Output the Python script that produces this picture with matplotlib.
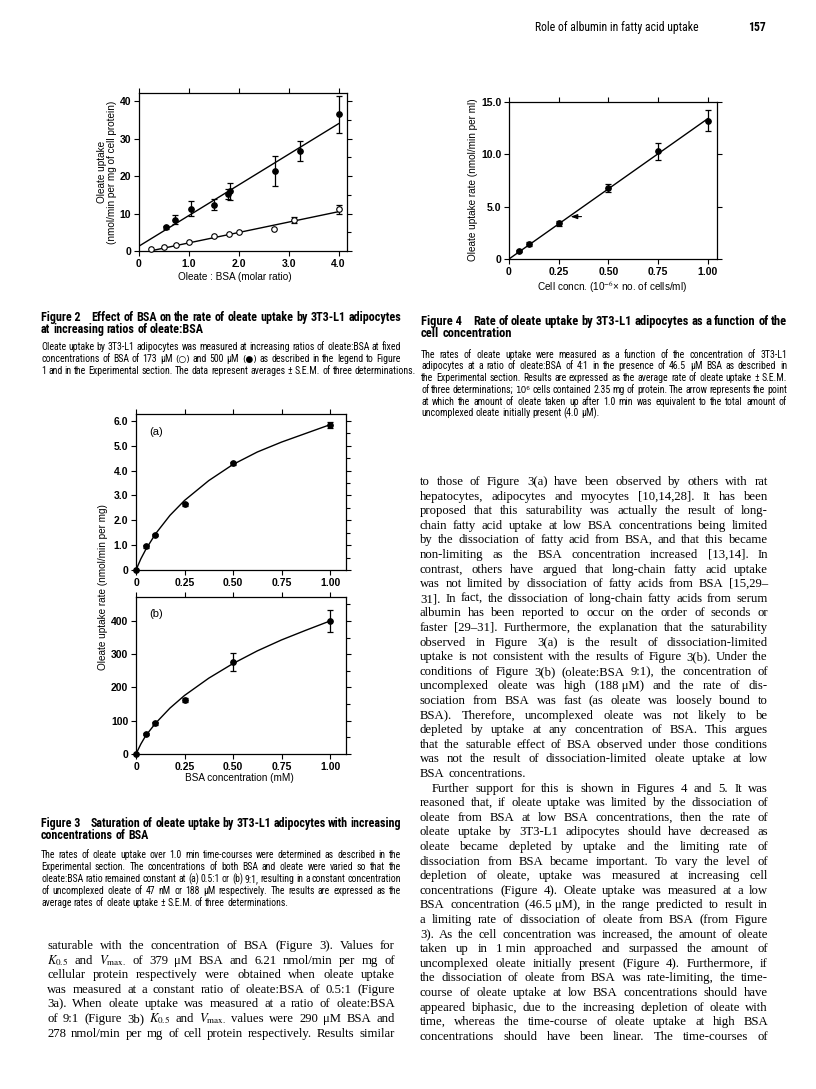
import matplotlib
matplotlib.use("Agg")
import matplotlib.pyplot as plt
from matplotlib import font_manager
from matplotlib.font_manager import FontProperties
from matplotlib.ticker import MultipleLocator

# ---------------- Figure 2: uptake vs oleate:BSA ratio ----------------
ratio_open = [0.25, 0.5, 0.75, 1.0, 1.5, 1.8, 2.0, 2.7, 3.1, 4.0]
uptake_open = [0.5, 1.0, 1.7, 2.3, 4.0, 4.5, 5.0, 5.9, 8.3, 11.2]
sem_open = [0, 0, 0, 0, 0, 0, 0, 0, 0.8, 1.2]
ratio_filled = [0.55, 0.73, 1.05, 1.5, 1.78, 1.82, 2.72, 3.22, 4.0]
uptake_filled = [6.4, 8.3, 11.3, 12.4, 15.3, 15.9, 21.4, 26.7, 36.5]
sem_filled = [0.4, 1.2, 2.0, 1.5, 1.3, 2.2, 4.0, 2.6, 5.0]
fit_open_x = [0.22, 4.0]
fit_open_y = [0.0, 10.5]
fit_filled_x = [0.0, 4.0]
fit_filled_y = [1.3, 34.0]
fig2_xticks = [0, 1.0, 2.0, 3.0, 4.0]
fig2_xlabels = ["0", "1.0", "2.0", "3.0", "4.0"]
fig2_yticks = [0, 10, 20, 30, 40]
fig2_ylabels = ["0", "10", "20", "30", "40"]

# ---------------- Figure 3: uptake vs BSA concentration ----------------
bsa_mM = [0, 0.05, 0.10, 0.25, 0.50, 1.00]
rate_a = [0, 0.95, 1.40, 2.65, 4.30, 5.82]
sem_a = [0, 0.05, 0.05, 0.06, 0.06, 0.12]
rate_b = [0, 60, 92, 162, 278, 400]
sem_b = [0, 4, 5, 5, 27, 34]
curve_x = [0, 0.025, 0.05, 0.10, 0.175, 0.25, 0.375, 0.50, 0.625, 0.75, 0.875, 1.00]
curve_a = [0, 0.45, 0.82, 1.45, 2.20, 2.80, 3.60, 4.25, 4.75, 5.15, 5.50, 5.85]
curve_b = [0, 30, 55, 92, 138, 176, 228, 272, 310, 343, 372, 400]
fig3_xticks = [0, 0.25, 0.50, 0.75, 1.00]
fig3_xlabels = ["0", "0.25", "0.50", "0.75", "1.00"]
fig3a_yticks = [0, 1, 2, 3, 4, 5, 6]
fig3a_ylabels = ["0", "1.0", "2.0", "3.0", "4.0", "5.0", "6.0"]
fig3b_yticks = [0, 100, 200, 300, 400]
fig3b_ylabels = ["0", "100", "200", "300", "400"]

# ---------------- Figure 4: uptake vs cell concentration ----------------
cells = [0.05, 0.10, 0.25, 0.50, 0.75, 1.00]
rate_cells = [0.75, 1.40, 3.40, 6.80, 10.30, 13.20]
sem_cells = [0.10, 0.20, 0.20, 0.40, 0.80, 1.00]
fit_cells_x = [0, 1.0]
fit_cells_y = [0, 13.4]
arrow_x = [0.365, 0.31]
arrow_y = 4.05
fig4_xticks = [0, 0.25, 0.50, 0.75, 1.00]
fig4_xlabels = ["0", "0.25", "0.50", "0.75", "1.00"]
fig4_yticks = [0, 5, 10, 15]
fig4_ylabels = ["0", "5.0", "10.0", "15.0"]

# ---------------- page text ----------------
header_text = "Role of albumin in fatty acid uptake"
page_number = "157"

cap2_title = ["Effect of BSA on the rate of oleate uptake by 3T3-L1 adipocytes",
              "at increasing ratios of oleate:BSA"]
cap2_body = [
    "Oleate uptake by 3T3-L1 adipocytes was measured at increasing ratios of oleate:BSA at fixed",
    "concentrations of BSA of 173 μM (○) and 500 μM (●) as described in the legend to Figure",
    "1 and in the Experimental section. The data represent averages ± S.E.M. of three determinations.",
]
cap4_title = ["Rate of oleate uptake by 3T3-L1 adipocytes as a function of the",
              "cell concentration"]
cap4_body = [
    "The rates of oleate uptake were measured as a function of the concentration of 3T3-L1",
    "adipocytes at a ratio of oleate:BSA of 4:1 in the presence of 46.5 μM BSA as described in",
    "the Experimental section. Results are expressed as the average rate of oleate uptake ± S.E.M.",
    "of three determinations; 10⁶ cells contained 2.35 mg of protein. The arrow represents the point",
    "at which the amount of oleate taken up after 1.0 min was equivalent to the total amount of",
    "uncomplexed oleate initially present (4.0 μM).",
]
cap3_title = ["Saturation of oleate uptake by 3T3-L1 adipocytes with increasing",
              "concentrations of BSA"]
cap3_body = [
    "The rates of oleate uptake over 1.0 min time-courses were determined as described in the",
    "Experimental section. The concentrations of both BSA and oleate were varied so that the",
    "oleate:BSA ratio remained constant at (a) 0.5:1 or (b) 9:1, resulting in a constant concentration",
    "of uncomplexed oleate of 47 nM or 188 μM respectively. The results are expressed as the",
    "average rates of oleate uptake ± S.E.M. of three determinations.",
]
left_body = [
    "saturable with the concentration of BSA (Figure 3). Values for",
    "$K_{0.5}$ and $V_{\\mathrm{max.}}$ of 379 μM BSA and 6.21 nmol/min per mg of",
    "cellular protein respectively were obtained when oleate uptake",
    "was measured at a constant ratio of oleate:BSA of 0.5:1 (Figure",
    "3a). When oleate uptake was measured at a ratio of oleate:BSA",
    "of 9:1 (Figure 3b) $K_{0.5}$ and $V_{\\mathrm{max.}}$ values were 290 μM BSA and",
    "278 nmol/min per mg of cell protein respectively. Results similar",
]
right_body = [
    "to those of Figure 3(a) have been observed by others with rat",
    "hepatocytes, adipocytes and myocytes [10,14,28]. It has been",
    "proposed that this saturability was actually the result of long-",
    "chain fatty acid uptake at low BSA concentrations being limited",
    "by the dissociation of fatty acid from BSA, and that this became",
    "non-limiting as the BSA concentration increased [13,14]. In",
    "contrast, others have argued that long-chain fatty acid uptake",
    "was not limited by dissociation of fatty acids from BSA [15,29–",
    "31]. In fact, the dissociation of long-chain fatty acids from serum",
    "albumin has been reported to occur on the order of seconds or",
    "faster [29–31]. Furthermore, the explanation that the saturability",
    "observed in Figure 3(a) is the result of dissociation-limited",
    "uptake is not consistent with the results of Figure 3(b). Under the",
    "conditions of Figure 3(b) (oleate:BSA 9:1), the concentration of",
    "uncomplexed oleate was high (188\u00a0μM) and the rate of dis-",
    "sociation from BSA was fast (as oleate was loosely bound to",
    "BSA). Therefore, uncomplexed oleate was not likely to be",
    "depleted by uptake at any concentration of BSA. This argues",
    "that the saturable effect of BSA observed under those conditions",
    "was not the result of dissociation-limited oleate uptake at low",
    "BSA concentrations.",
    "Further support for this is shown in Figures 4 and 5. It was",
    "reasoned that, if oleate uptake was limited by the dissociation of",
    "oleate from BSA at low BSA concentrations, then the rate of",
    "oleate uptake by 3T3-L1 adipocytes should have decreased as",
    "oleate became depleted by uptake and the limiting rate of",
    "dissociation from BSA became important. To vary the level of",
    "depletion of oleate, uptake was measured at increasing cell",
    "concentrations (Figure 4). Oleate uptake was measured at a low",
    "BSA concentration (46.5\u00a0μM), in the range predicted to result in",
    "a limiting rate of dissociation of oleate from BSA (from Figure",
    "3). As the cell concentration was increased, the amount of oleate",
    "taken up in 1\u00a0min approached and surpassed the amount of",
    "uncomplexed oleate initially present (Figure 4). Furthermore, if",
    "the dissociation of oleate from BSA was rate-limiting, the time-",
    "course of oleate uptake at low BSA concentrations should have",
    "appeared biphasic, due to the increasing depletion of oleate with",
    "time, whereas the time-course of oleate uptake at high BSA",
    "concentrations should have been linear. The time-courses of",
]

W, H = 816, 1089
plt.rcParams["font.family"] = ["Liberation Sans", "DejaVu Sans"]
plt.rcParams["mathtext.fontset"] = "stix"


def condensed_file(bold):
    # look for a narrow sans face on the system (Helvetica Condensed stand-in)
    prefs = ["Liberation Sans Narrow", "Roboto Condensed", "Open Sans Condensed",
             "Noto Sans Condensed", "Noto Sans", "DejaVu Sans Condensed", "DejaVu Sans"]
    for stretch_ok in (("condensed",), ("semi-condensed", "extra-condensed")):
        for name in prefs:
            for f in font_manager.fontManager.ttflist:
                if f.name != name or f.style != "normal":
                    continue
                narrow = "Narrow" in name or "Condensed" in name or f.stretch in stretch_ok
                if not narrow:
                    continue
                w = f.weight if isinstance(f.weight, int) else font_manager.weight_dict.get(f.weight, 400)
                if (w >= 600) == bold and (w in (400, 700) or "Narrow" in name):
                    return f.fname
    return None


COND_R = condensed_file(False)
COND_B = condensed_file(True)


def cond_fp(size, bold=False):
    path = COND_B if bold else COND_R
    if path:
        return FontProperties(fname=path, size=size)
    return FontProperties(family="Liberation Sans", size=size, weight="bold" if bold else "normal")


SPECIAL = set("○●⁶")

fig = plt.figure(figsize=(W / 100, H / 100), dpi=100)
rend = fig.canvas.get_renderer()


def fx(x):
    return x / W


def fy(y):
    return 1 - y / H


def word_fp(w, fp):
    if SPECIAL & set(w):
        return FontProperties(family="DejaVu Sans", size=fp.get_size() * 0.9)
    return fp


def tw(s, fp):
    t = fig.text(0, 0, s, fontproperties=word_fp(s, fp))
    w = t.get_window_extent(rend).width
    t.remove()
    return w


def space(fp):
    return tw("n n", fp) - tw("nn", fp)


def natural(line, fp):
    words = line.split(" ")
    return sum(tw(w, fp) for w in words) + space(fp) * (len(words) - 1)


def sized(make, lines, width, size, grow=False):
    fp = make(size)
    worst = max(natural(ln, fp) for ln in lines)
    if worst > width or grow:
        fp = make(size * width / worst)
    return fp


def put_line(text, x0, x1, y, fp, justify):
    # one text per word so the line can be set flush on both sides
    words = text.split(" ")
    ws = [tw(w, fp) for w in words]
    if justify and len(words) > 1:
        gap = (x1 - x0 - sum(ws)) / (len(words) - 1)
    else:
        gap = space(fp)
    x = x0
    y = round(y)
    for w, wd in zip(words, ws):
        fig.text(fx(x), fy(y), w, fontproperties=word_fp(w, fp), va="baseline", ha="left")
        x += wd + gap


def paragraph(lines, x0, x1, y0, dy, fp, ragged=(), indent=(), ind=12):
    for i, ln in enumerate(lines):
        put_line(ln, x0 + (ind if i in indent else 0), x1, y0 + i * dy, fp, i not in ragged)


def caption(label, title, body, x0, x1, ty, tdy, by, bdy):
    tfp = sized(lambda s: cond_fp(s, True), [label + "\u2003" + title[0]], x1 - x0, 8.5, grow=True)
    lw = tw(label + "\u2003", tfp)
    fig.text(fx(x0), fy(ty), label, fontproperties=tfp, va="baseline")
    put_line(title[0], x0 + lw, x1, ty, tfp, True)
    put_line(title[1], x0, x1, ty + tdy, tfp, False)
    bfp = sized(lambda s: cond_fp(s), body[:-1], (x1 - x0) * 1.01, 8.0, grow=True)
    paragraph(body, x0, x1, by, bdy, bfp, ragged={len(body) - 1})


def frame(ax, xlim, ylim, xt, xtl, yt, ytl, yminor=None):
    ax.set_xlim(*xlim)
    ax.set_ylim(*ylim)
    ax.set_xticks(xt)
    ax.set_xticklabels(xtl)
    ax.set_yticks(yt)
    ax.set_yticklabels(ytl)
    ax.tick_params(direction="out", top=True, right=True, length=3.5, width=0.8,
                   pad=2, labelsize=7.5)
    if yminor:
        ax.yaxis.set_minor_locator(MultipleLocator(yminor))
        ax.tick_params(axis="y", which="minor", left=False, right=True,
                       direction="out", length=3, width=0.8)
    for lab in ax.get_xticklabels() + ax.get_yticklabels():
        lab.set_fontweight("bold")
    for s in ax.spines.values():
        s.set_linewidth(0.9)


def add_axes(l, r, t, b):
    return fig.add_axes([fx(l), fy(b), (r - l) / W, (b - t) / H])


def points(ax, x, y, e, open_=False):
    fc = "white" if open_ else "black"
    ax.plot(x, y, "o", ms=4, mfc=fc, mec="black", mew=0.8, clip_on=False, zorder=3)
    xe = [a for a, s in zip(x, e) if s > 0]
    ye = [b for b, s in zip(y, e) if s > 0]
    ee = [s for s in e if s > 0]
    if xe:
        ax.errorbar(xe, ye, yerr=ee, fmt="none", ecolor="black", elinewidth=0.9,
                    capsize=2.5, capthick=0.9, clip_on=False, zorder=2)


lab_fp = FontProperties(family="Liberation Sans", size=7.2)

# ---- running header ----
hfp = sized(cond_fp, [header_text], 165, 9)
fig.text(fx(535), fy(31), header_text, fontproperties=hfp, va="baseline")
fig.text(fx(766), fy(31), page_number, fontproperties=cond_fp(hfp.get_size(), True),
         va="baseline", ha="right")

# ---- Figure 2 ----
ax2 = add_axes(139, 347, 93, 251)
ax2.plot(fit_filled_x, fit_filled_y, color="black", lw=1.0)
ax2.plot(fit_open_x, fit_open_y, color="black", lw=1.0)
points(ax2, ratio_filled, uptake_filled, sem_filled)
points(ax2, ratio_open, uptake_open, sem_open, open_=True)
frame(ax2, (0, 4.17), (0, 42.2), fig2_xticks, fig2_xlabels, fig2_yticks, fig2_ylabels, 5)
fig.text(fx(235), fy(277), "Oleate : BSA (molar ratio)", fontproperties=lab_fp,
         ha="center", va="center")
fig.text(fx(102), fy(172), "Oleate uptake", fontproperties=lab_fp, rotation=90,
         ha="center", va="center")
fig.text(fx(112), fy(172), "(nmol/min per mg of cell protein)", fontproperties=lab_fp,
         rotation=90, ha="center", va="center")

# ---- Figure 4 ----
ax4 = add_axes(509, 717, 102, 259)
ax4.plot(fit_cells_x, fit_cells_y, color="black", lw=1.0)
points(ax4, cells, rate_cells, sem_cells)
ax4.annotate("", xy=(arrow_x[1], arrow_y), xytext=(arrow_x[0], arrow_y),
             arrowprops=dict(arrowstyle="-|>,head_length=0.5,head_width=0.18", lw=0.8,
                             color="black", mutation_scale=8, shrinkA=0, shrinkB=0))
frame(ax4, (0, 1.047), (0, 15.0), fig4_xticks, fig4_xlabels, fig4_yticks, fig4_ylabels)
fig.text(fx(612), fy(287), "Cell concn. (10$^{-6}$× no. of cells/ml)", fontproperties=lab_fp,
         ha="center", va="center")
fig.text(fx(473), fy(180), "Oleate uptake rate (nmol/min per ml)", fontproperties=lab_fp,
         rotation=90, ha="center", va="center")

# ---- Figure 3 ----
ax3a = add_axes(136, 346, 414, 570)
ax3a.plot(curve_x, curve_a, color="black", lw=1.0)
points(ax3a, bsa_mM, rate_a, sem_a)
frame(ax3a, (0, 1.082), (0, 6.28), fig3_xticks, fig3_xlabels, fig3a_yticks, fig3a_ylabels, 0.5)
ax3a.text(0.065, 0.885, "(a)", transform=ax3a.transAxes, fontsize=8, va="center")

ax3b = add_axes(136, 346, 597, 754)
ax3b.plot(curve_x, curve_b, color="black", lw=1.0)
points(ax3b, bsa_mM, rate_b, sem_b)
frame(ax3b, (0, 1.082), (0, 472), fig3_xticks, fig3_xlabels, fig3b_yticks, fig3b_ylabels, 50)
ax3b.text(0.065, 0.89, "(b)", transform=ax3b.transAxes, fontsize=8, va="center")
fig.text(fx(239), fy(778), "BSA concentration (mM)", fontproperties=lab_fp,
         ha="center", va="center")
fig.text(fx(103), fy(587), "Oleate uptake rate (nmol/min per mg)", fontproperties=lab_fp,
         rotation=90, ha="center", va="center")

# ---- captions ----
caption("Figure 2", cap2_title, cap2_body, 41, 401, 321, 12, 350.5, 11.8)
caption("Figure 4", cap4_title, cap4_body, 421, 787, 325, 12, 357.5, 11.8)
caption("Figure 3", cap3_title, cap3_body, 41, 401, 827, 12, 858.5, 11.8)

# ---- body text ----
bfp = sized(lambda s: FontProperties(family="Liberation Serif", size=s), right_body, 348, 9.2)
paragraph(left_body, 47, 395, 949, 14.6, bfp)
paragraph(right_body, 420, 768, 485, 14.6, bfp, ragged={20}, indent={21})

fig.savefig("out.png", dpi=100)
